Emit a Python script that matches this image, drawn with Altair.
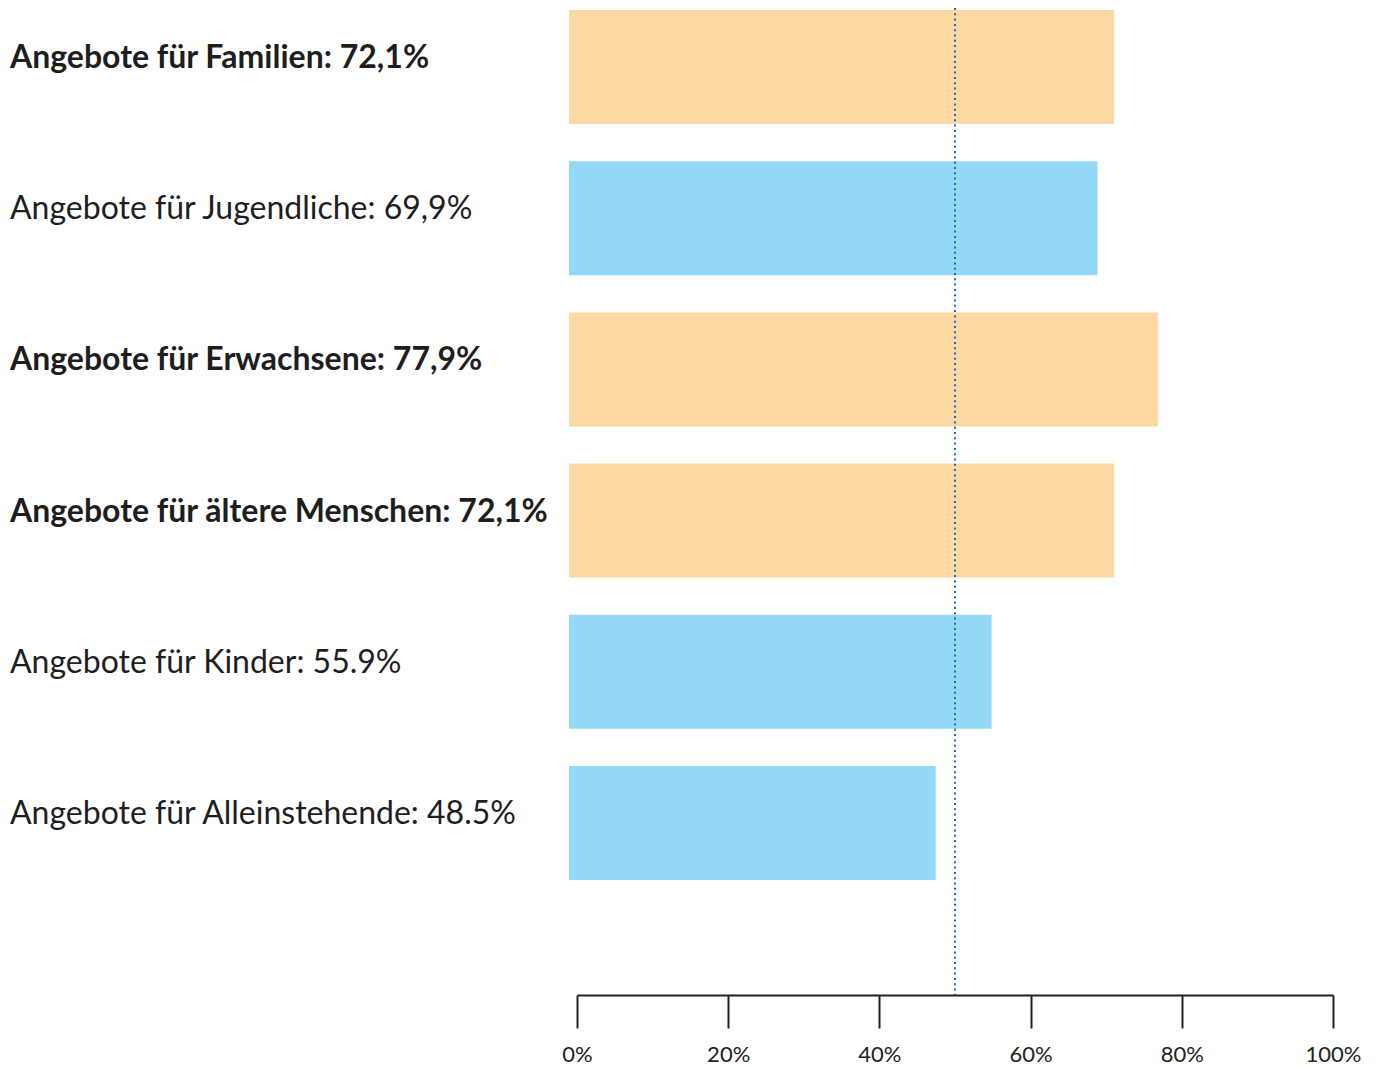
import altair as alt
import pandas as pd

categories = ["Familien", "Jugendliche", "Erwachsene", "ältere Menschen", "Kinder", "Alleinstehende"]
values = [72.1, 69.9, 77.9, 72.1, 55.9, 48.5]
labels = [
    "Angebote für Familien: 72,1%",
    "Angebote für Jugendliche: 69,9%",
    "Angebote für Erwachsene: 77,9%",
    "Angebote für ältere Menschen: 72,1%",
    "Angebote für Kinder: 55.9%",
    "Angebote für Alleinstehende: 48.5%",
]
groups = ["hoch", "niedrig", "hoch", "hoch", "niedrig", "niedrig"]
tick_values = [0, 20, 40, 60, 80, 100]
reference_value = 50

df = pd.DataFrame({"cat": categories, "value": values, "label": labels, "group": groups})
ref = pd.DataFrame({"ref": [reference_value]})

FONT = "Lato"

y_enc = alt.Y("cat:N", sort=categories, axis=None,
              scale=alt.Scale(range=[2, 872], paddingInner=0.246, paddingOuter=0))

bars = alt.Chart(df).mark_bar(xOffset=-8).encode(
    x=alt.X("value:Q", scale=alt.Scale(domain=[0, 100], nice=False),
            axis=alt.Axis(values=tick_values, labelExpr="datum.value + '%'",
                          title=None, grid=False, domainColor="#222222", domainWidth=2,
                          tickColor="#222222", tickWidth=2, tickSize=33,
                          labelPadding=16, labelFont=FONT, labelFontSize=22,
                          labelColor="#222222", labelFlush=False)),
    y=y_enc,
    color=alt.Color("group:N", scale=alt.Scale(domain=["hoch", "niedrig"],
                                                range=["#FDD8A3", "#93D8F4"]), legend=None),
)

text_bold = alt.Chart(df).transform_filter(alt.datum.group == "hoch").mark_text(
    align="left", baseline="middle", font=FONT, fontSize=32, fontWeight="bold",
    color="#1e1e1e", dy=-9
).encode(x=alt.value(-567), y=y_enc, text="label:N")

text_reg = alt.Chart(df).transform_filter(alt.datum.group == "niedrig").mark_text(
    align="left", baseline="middle", font=FONT, fontSize=32, fontWeight="normal",
    color="#1e1e1e", dy=-9
).encode(x=alt.value(-567), y=y_enc, text="label:N")

rule = alt.Chart(ref).mark_rule(color="#1a6db3", strokeWidth=2, strokeDash=[2, 3.3]).encode(
    x="ref:Q"
)

chart = alt.layer(bars, rule, text_bold, text_reg).properties(
    width=756, height=987,
    padding={"left": 569, "top": 0, "right": 37, "bottom": 72},
    autosize=alt.AutoSizeParams(type="none"),
).configure_view(stroke=None)

chart.save("out.html", embed_options={"renderer": "svg", "actions": False})
